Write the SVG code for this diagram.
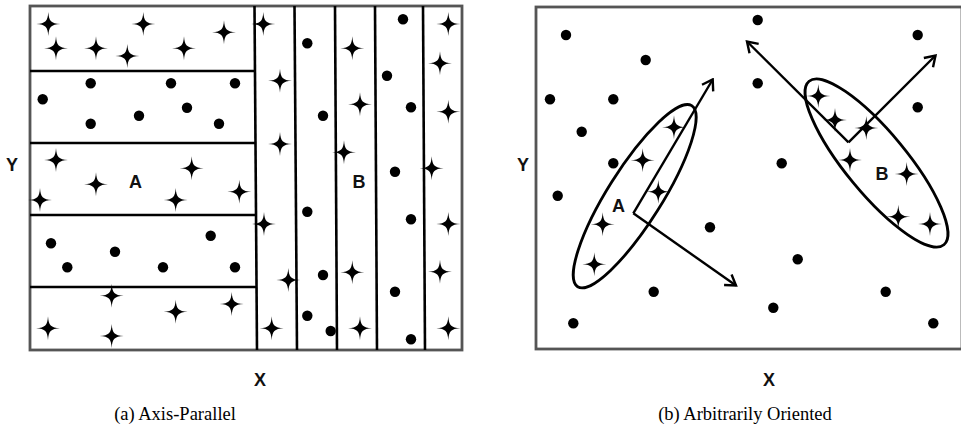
<svg xmlns="http://www.w3.org/2000/svg" xmlns:xlink="http://www.w3.org/1999/xlink" width="961" height="438" viewBox="0 0 961 438">
<style>
.frame{fill:none;stroke:#555;stroke-width:2.8}
.ln{fill:none;stroke:#000;stroke-width:2.6}
.ell{fill:none;stroke:#000;stroke-width:2.8}
.arr{fill:none;stroke:#000;stroke-width:2.4;marker-end:url(#ah)}
.d{fill:#000}
.lbl{font-family:"Liberation Sans",Arial,sans-serif;font-weight:bold;font-size:18px;fill:#111;text-anchor:middle}
.cap{font-family:"Liberation Serif","Times New Roman",serif;font-size:18.5px;fill:#000;text-anchor:middle}
</style>
<defs>
<path id="st" d="M0,-12 C0.7,-2.6 2.6,-0.7 12,0 C2.6,0.7 0.7,2.6 0,12 C-0.7,2.6 -2.6,0.7 -12,0 C-2.6,-0.7 -0.7,-2.6 0,-12Z" fill="#000"/>
<marker id="ah" viewBox="-12 -8 14 16" markerWidth="14" markerHeight="16" refX="0" refY="0" orient="auto" markerUnits="userSpaceOnUse">
<path d="M-10,-6.5 L0,0 L-10,6.5" fill="none" stroke="#000" stroke-width="2.4"/>
</marker>
</defs>
<rect width="961" height="438" fill="#fff"/>

<g id="panel-a">
<rect class="frame" x="30" y="6" width="432" height="344"/>
<g id="grid-a">
<line class="ln" x1="30" y1="71" x2="255" y2="71"/>
<line class="ln" x1="30" y1="143" x2="255" y2="143"/>
<line class="ln" x1="30" y1="215" x2="256" y2="215"/>
<line class="ln" x1="30" y1="287" x2="256" y2="287"/>
<line class="ln" x1="254.5" y1="6" x2="257" y2="350"/>
<line class="ln" x1="294.5" y1="6" x2="297" y2="350"/>
<line class="ln" x1="335" y1="6" x2="337" y2="350"/>
<line class="ln" x1="375" y1="6" x2="377" y2="350"/>
<line class="ln" x1="423" y1="6" x2="425" y2="350"/>
</g>
<g id="points-a">
<use href="#st" x="48.3" y="24"/>
<use href="#st" x="143.3" y="24"/>
<use href="#st" x="224" y="32.3"/>
<use href="#st" x="56" y="48.3"/>
<use href="#st" x="96" y="48.3"/>
<use href="#st" x="127.3" y="56"/>
<use href="#st" x="184" y="48.3"/>
<circle class="d" cx="90.7" cy="83.3" r="5.2"/>
<circle class="d" cx="171" cy="83.3" r="5.2"/>
<circle class="d" cx="235" cy="83.3" r="5.2"/>
<circle class="d" cx="42.7" cy="99.3" r="5.2"/>
<circle class="d" cx="187" cy="107.7" r="5.2"/>
<circle class="d" cx="139" cy="115.7" r="5.2"/>
<circle class="d" cx="90.7" cy="123.7" r="5.2"/>
<circle class="d" cx="219" cy="123.7" r="5.2"/>
<use href="#st" x="56" y="160"/>
<use href="#st" x="191.7" y="168.3"/>
<use href="#st" x="96" y="184.3"/>
<use href="#st" x="40" y="200"/>
<use href="#st" x="175.7" y="200"/>
<use href="#st" x="239.3" y="191.7"/>
<circle class="d" cx="51" cy="243.3" r="5.2"/>
<circle class="d" cx="115" cy="251.7" r="5.2"/>
<circle class="d" cx="210.7" cy="235.7" r="5.2"/>
<circle class="d" cx="67.3" cy="267.3" r="5.2"/>
<circle class="d" cx="163" cy="267.3" r="5.2"/>
<circle class="d" cx="235" cy="267.3" r="5.2"/>
<use href="#st" x="111.7" y="295.7"/>
<use href="#st" x="231.7" y="304"/>
<use href="#st" x="175.7" y="311.7"/>
<use href="#st" x="48" y="328.3"/>
<use href="#st" x="111.7" y="336"/>
<use href="#st" x="263.3" y="24"/>
<use href="#st" x="280" y="80.7"/>
<use href="#st" x="280" y="144"/>
<use href="#st" x="264" y="224"/>
<use href="#st" x="288.3" y="280"/>
<use href="#st" x="271.7" y="328.3"/>
<circle class="d" cx="307.3" cy="43.3" r="5.2"/>
<circle class="d" cx="323" cy="115.7" r="5.2"/>
<circle class="d" cx="307.3" cy="211.7" r="5.2"/>
<circle class="d" cx="323" cy="275" r="5.2"/>
<circle class="d" cx="307.3" cy="315.7" r="5.2"/>
<circle class="d" cx="330.7" cy="331" r="5.2"/>
<use href="#st" x="352.3" y="48.3"/>
<use href="#st" x="360" y="104.3"/>
<use href="#st" x="344" y="152.3"/>
<use href="#st" x="352.3" y="272.3"/>
<use href="#st" x="360" y="328.3"/>
<circle class="d" cx="403" cy="19.3" r="5.2"/>
<circle class="d" cx="387" cy="75.7" r="5.2"/>
<circle class="d" cx="411" cy="107.3" r="5.2"/>
<circle class="d" cx="395" cy="171.7" r="5.2"/>
<circle class="d" cx="411" cy="219.3" r="5.2"/>
<circle class="d" cx="395" cy="291.7" r="5.2"/>
<circle class="d" cx="411" cy="339.3" r="5.2"/>
<use href="#st" x="448.3" y="24"/>
<use href="#st" x="440" y="63.3"/>
<use href="#st" x="448.3" y="111.7"/>
<use href="#st" x="431.7" y="168.3"/>
<use href="#st" x="448.3" y="224"/>
<use href="#st" x="440" y="271.7"/>
<use href="#st" x="448.3" y="328.3"/>
</g>
<text class="lbl" x="135.5" y="188">A</text>
<text class="lbl" x="359" y="188">B</text>
<text class="lbl" x="12" y="171">Y</text>
<text class="lbl" x="260" y="386">X</text>
<text class="cap" x="175" y="420">(a) Axis-Parallel</text>
</g>

<g id="panel-b">
<rect class="frame" x="536" y="7" width="426" height="342"/>
<g id="points-b">
<circle class="d" cx="566" cy="35" r="5.2"/>
<circle class="d" cx="645.7" cy="60" r="5.2"/>
<circle class="d" cx="550" cy="99.3" r="5.2"/>
<circle class="d" cx="613.3" cy="99.3" r="5.2"/>
<circle class="d" cx="581.7" cy="131.7" r="5.2"/>
<circle class="d" cx="613.3" cy="163.3" r="5.2"/>
<circle class="d" cx="557.7" cy="195.7" r="5.2"/>
<circle class="d" cx="710" cy="227.3" r="5.2"/>
<circle class="d" cx="653.7" cy="291.7" r="5.2"/>
<circle class="d" cx="573.3" cy="323.3" r="5.2"/>
<circle class="d" cx="757.7" cy="20" r="5.2"/>
<circle class="d" cx="917.7" cy="35" r="5.2"/>
<circle class="d" cx="757.7" cy="83.3" r="5.2"/>
<circle class="d" cx="917.7" cy="107.3" r="5.2"/>
<circle class="d" cx="781.7" cy="163.3" r="5.2"/>
<circle class="d" cx="797.7" cy="259.3" r="5.2"/>
<circle class="d" cx="885.7" cy="291.7" r="5.2"/>
<circle class="d" cx="773.3" cy="307.7" r="5.2"/>
<circle class="d" cx="933.3" cy="323.3" r="5.2"/>
<use href="#st" x="674" y="127.3"/>
<use href="#st" x="642.7" y="160.3"/>
<use href="#st" x="658.3" y="191.7"/>
<use href="#st" x="602.7" y="224.3"/>
<use href="#st" x="594.3" y="264.3"/>
<use href="#st" x="818.3" y="96"/>
<use href="#st" x="835" y="120"/>
<use href="#st" x="866.3" y="128"/>
<use href="#st" x="850" y="160"/>
<use href="#st" x="906.7" y="174"/>
<use href="#st" x="898.3" y="216.7"/>
<use href="#st" x="930" y="224"/>
</g>
<g id="cluster-A">
<ellipse class="ell" cx="634.7" cy="196.2" rx="107" ry="27" transform="rotate(-57.8 634.7 196.2)"/>
<text class="lbl" x="618.5" y="212">A</text>
</g>
<g id="cluster-B">
<ellipse class="ell" cx="876.5" cy="163" rx="106" ry="30.5" transform="rotate(50.5 876.5 163)"/>
<text class="lbl" x="882" y="180">B</text>
</g>
<g id="connectors">
<line class="arr" x1="633.3" y1="213.3" x2="712.7" y2="79.5"/>
<line class="arr" x1="633.3" y1="213.3" x2="736" y2="285.5"/>
<line class="arr" x1="848.5" y1="142.3" x2="747" y2="41.5"/>
<line class="arr" x1="848.5" y1="142.3" x2="935.5" y2="55.5"/>
</g>
<text class="lbl" x="523" y="171">Y</text>
<text class="lbl" x="769" y="386">X</text>
<text class="cap" x="745" y="420">(b) Arbitrarily Oriented</text>
</g>
</svg>
